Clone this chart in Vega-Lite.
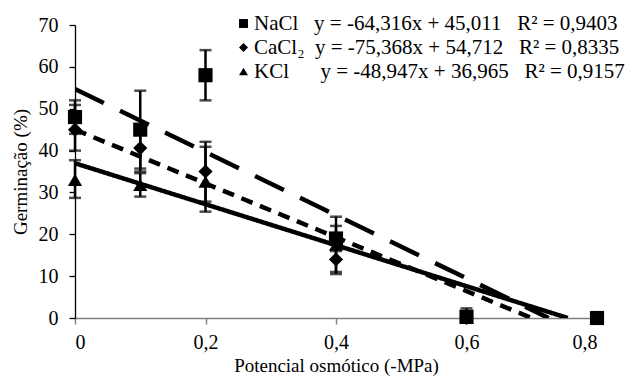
{
  "$schema": "https://vega.github.io/schema/vega-lite/v6.json",
  "width": 522,
  "height": 293,
  "autosize": {"type": "none"},
  "padding": {"left": 75, "top": 25, "right": 33, "bottom": 60},
  "background": "white",
  "config": {
    "font": "Liberation Serif",
    "view": {"stroke": null},
    "axis": {
      "grid": false,
      "labelFont": "Liberation Serif",
      "titleFont": "Liberation Serif",
      "labelColor": "black",
      "titleColor": "black",
      "titleFontWeight": "normal",
      "labelFontSize": 20,
      "titleFontSize": 19,
      "domainColor": "black",
      "tickColor": "black"
    },
    "legend": {"labelFont": "Liberation Serif"}
  },
  "datasets": {
    "fits": [
      {"fit": "long", "x": 0, "y": 54.712},
      {"fit": "long", "x": 0.7259, "y": 0},
      {"fit": "short", "x": 0, "y": 45.011},
      {"fit": "short", "x": 0.6998, "y": 0},
      {"fit": "solid", "x": 0, "y": 36.965},
      {"fit": "solid", "x": 0.7552, "y": 0}
    ],
    "obs": [
      {"salt": "KCl", "x": 0, "y": 33, "lo": 28.7, "hi": 37.7},
      {"salt": "KCl", "x": 0.1, "y": 31.8, "lo": 29, "hi": 34.6},
      {"salt": "KCl", "x": 0.2, "y": 32.6, "lo": 25.4, "hi": 40.9},
      {"salt": "KCl", "x": 0.4, "y": 17.5, "lo": 11, "hi": 24.2},
      {"salt": "KCl", "x": 0.6, "y": 0, "lo": 0, "hi": 0},
      {"salt": "KCl", "x": 0.8, "y": 0, "lo": 0, "hi": 0},
      {"salt": "CaCl₂", "x": 0, "y": 45, "lo": 40, "hi": 50.9},
      {"salt": "CaCl₂", "x": 0.1, "y": 40.6, "lo": 35, "hi": 46.2},
      {"salt": "CaCl₂", "x": 0.2, "y": 35, "lo": 27.8, "hi": 42.1},
      {"salt": "CaCl₂", "x": 0.4, "y": 14, "lo": 10.5, "hi": 17.5},
      {"salt": "CaCl₂", "x": 0.6, "y": 0, "lo": 0, "hi": 0},
      {"salt": "CaCl₂", "x": 0.8, "y": 0, "lo": 0, "hi": 0},
      {"salt": "NaCl", "x": 0, "y": 48, "lo": 44, "hi": 52},
      {"salt": "NaCl", "x": 0.1, "y": 45, "lo": 35.7, "hi": 54.3},
      {"salt": "NaCl", "x": 0.2, "y": 58, "lo": 52, "hi": 64},
      {"salt": "NaCl", "x": 0.4, "y": 19, "lo": 16, "hi": 22},
      {"salt": "NaCl", "x": 0.6, "y": 0.3, "lo": 0, "hi": 2.3},
      {"salt": "NaCl", "x": 0.8, "y": 0, "lo": 0, "hi": 0}
    ]
  },
  "layer": [
    {
      "data": {"name": "fits"},
      "mark": {"type": "line", "strokeWidth": 4.5, "color": "black", "clip": true},
      "encoding": {
        "x": {
          "field": "x", "type": "quantitative",
          "scale": {"domain": [0, 0.8], "nice": false},
          "axis": {
            "title": "Potencial osmótico (-MPa)",
            "values": [0, 0.2, 0.4, 0.6, 0.8],
            "labelExpr": "datum.value == 0 ? '0' : replace(format(datum.value, '.1f'), '.', ',')",
            "labelFont": "Liberation Serif",
            "titleFont": "Liberation Serif",
            "labelFontSize": 20,
            "titleFontSize": 19,
            "tickSize": 6,
            "labelPadding": 8,
            "titlePadding": 4,
            "domainColor": "#808080",
            "domainWidth": 1.5,
            "tickColor": "#808080",
            "tickWidth": 1.5
          }
        },
        "y": {
          "field": "y", "type": "quantitative",
          "scale": {"domain": [0, 70], "nice": false},
          "axis": {
            "title": "Germinação (%)",
            "values": [0, 10, 20, 30, 40, 50, 60, 70],
            "labelFont": "Liberation Serif",
            "titleFont": "Liberation Serif",
            "labelFontSize": 20,
            "titleFontSize": 19,
            "tickSize": 6,
            "labelPadding": 11,
            "titlePadding": 8,
            "domainWidth": 1.3,
            "tickWidth": 1.3
          }
        },
        "strokeDash": {
          "field": "fit", "type": "nominal",
          "scale": {"domain": ["long", "short", "solid"], "range": [[32, 18], [12, 8], [1, 0]]},
          "legend": null
        }
      }
    },
    {
      "data": {"name": "obs"},
      "mark": {"type": "rule", "strokeWidth": 2.5, "color": "black"},
      "encoding": {
        "x": {"field": "x", "type": "quantitative"},
        "y": {"field": "lo", "type": "quantitative"},
        "y2": {"field": "hi"}
      }
    },
    {
      "data": {"name": "obs"},
      "mark": {"type": "tick", "orient": "horizontal", "size": 12, "thickness": 2.5, "color": "black"},
      "encoding": {
        "x": {"field": "x", "type": "quantitative"},
        "y": {"field": "lo", "type": "quantitative"}
      }
    },
    {
      "data": {"name": "obs"},
      "mark": {"type": "tick", "orient": "horizontal", "size": 12, "thickness": 2.5, "color": "black"},
      "encoding": {
        "x": {"field": "x", "type": "quantitative"},
        "y": {"field": "hi", "type": "quantitative"}
      }
    },
    {
      "data": {"name": "obs"},
      "mark": {"type": "point", "filled": true, "opacity": 1, "color": "black", "size": 200},
      "encoding": {
        "x": {"field": "x", "type": "quantitative"},
        "y": {"field": "y", "type": "quantitative"},
        "shape": {
          "field": "salt", "type": "nominal",
          "scale": {"domain": ["NaCl", "CaCl₂", "KCl"], "range": ["square", "diamond", "triangle-up"]},
          "legend": {
            "orient": "none",
            "legendX": 158,
            "legendY": -12,
            "title": null,
            "symbolSize": 80,
            "symbolFillColor": "black",
            "symbolStrokeColor": "black",
            "symbolStrokeWidth": 0,
            "symbolOpacity": 1,
            "labelFont": "Liberation Serif",
            "labelFontSize": 21,
            "labelColor": "black",
            "labelLimit": 600,
            "labelOffset": 0,
            "rowPadding": 2,
            "padding": 0,
            "labelExpr": "datum.label == 'NaCl' ? 'NaCl\u00a0\u00a0\u00a0y = -64,316x + 45,011\u00a0\u00a0\u00a0R² = 0,9403' : datum.label == 'KCl' ? 'KCl\u00a0\u00a0\u00a0\u00a0\u00a0\u00a0y = -48,947x + 36,965\u00a0\u00a0\u00a0R² = 0,9157' : 'CaCl₂\u00a0\u00a0y = -75,368x + 54,712\u00a0\u00a0\u00a0R² = 0,8335'"
          }
        }
      }
    }
  ]
}
